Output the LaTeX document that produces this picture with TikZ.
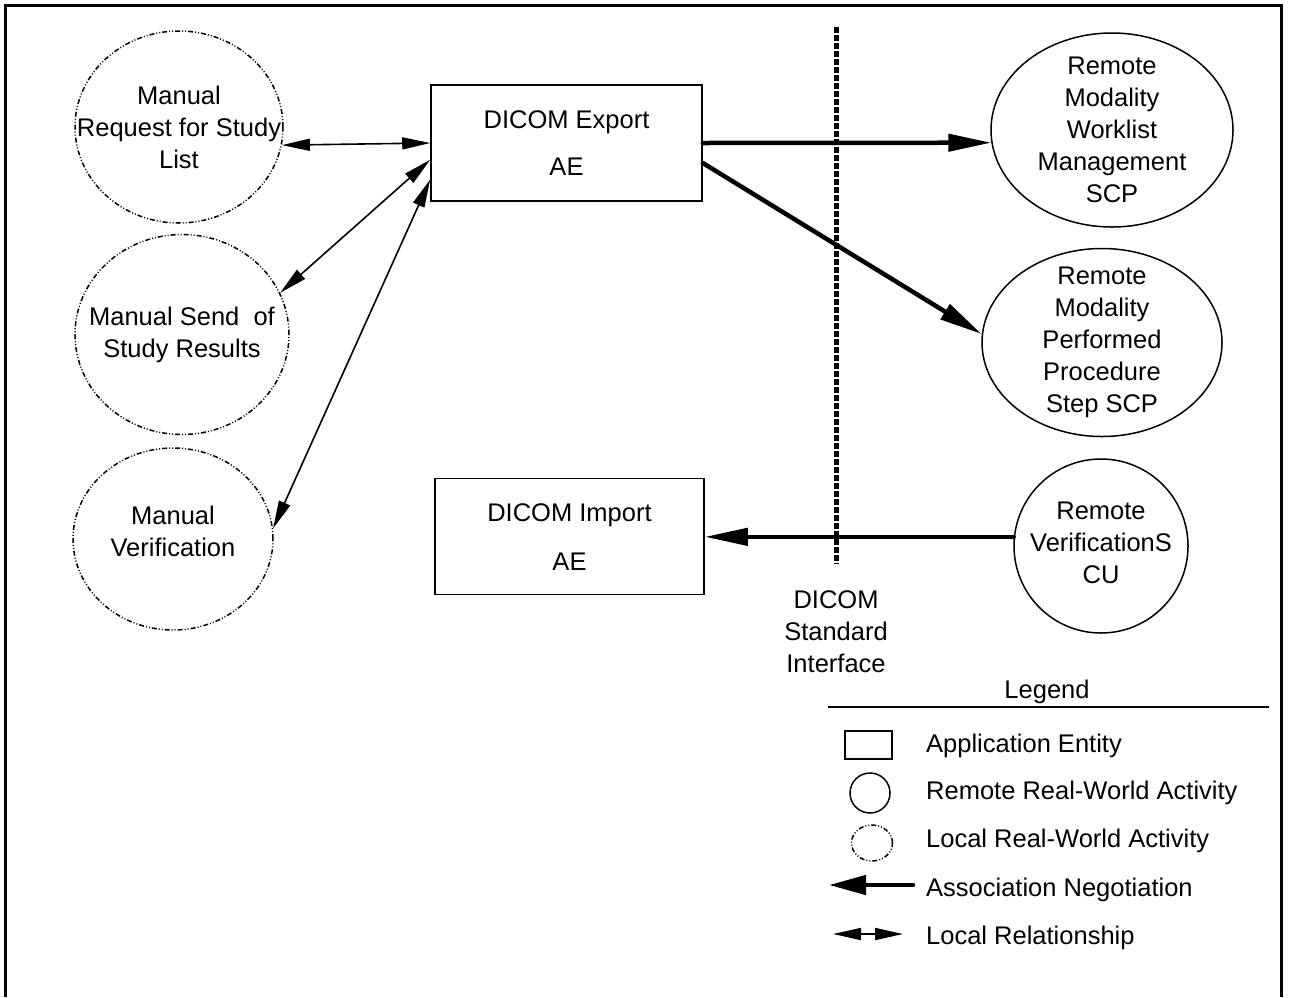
\documentclass[tikz,border=0pt]{standalone}
\usepackage{fontspec}
\setmainfont{Liberation Sans}
\usepackage{tikz}
\usetikzlibrary{ arrows.meta, calc, positioning, shapes.geometric }
\tikzset{
x=1pt, y=-1pt, % one unit per pixel, y going down
node distance=10pt, % default gap between placed nodes
every node/.style={inner sep=1pt, align=center, font=\fontsize{25.5}{32}\selectfont},
ae/.style={draw, line width=1.6pt, inner sep=0pt}, % application entity box
remote/.style={ellipse, draw, line width=1.5pt, inner sep=0pt}, % remote activity
local/.style={ellipse, draw, line width=1.5pt, inner sep=0pt,
  dash pattern=on 5pt off 2pt on 1pt off 2pt on 1pt off 2pt}, % local activity
assoc/.style={line width=4.5pt, line cap=round, -{Triangle[length=43pt,width=17pt]}}, % association
rel/.style={line width=1.6pt, {Triangle[length=28pt,width=12pt]}-{Triangle[length=28pt,width=12pt]}}, % local relationship
iface/.style={line width=5pt, dash pattern=on 6pt off 2pt}, % standard interface
}

\begin{document}
\begin{tikzpicture}
  \useasboundingbox (0,0) rectangle (1289,997);
  \draw[line width=3pt] (5,997) -- (5,5) -- (1281,5) -- (1281,997); % frame, open below

  \node[ae, minimum width=271pt, minimum height=116pt] (export) at (566.5,143) {DICOM Export\\[15pt]AE};
  \node[ae, minimum width=269pt, minimum height=116pt, below=276pt of export, xshift=3pt] (import) {DICOM Import\\[17pt]AE};

  \node[local, minimum width=208pt, minimum height=192pt,
    label=center:{Manual\\Request for Study\\List}] (reqlist) at (179,127) {};
  \node[local, minimum width=214pt, minimum height=200pt, below=10pt of reqlist, xshift=3pt,
    label=center:{Manual Send~ of\\Study Results}] (sendres) {};
  \node[local, minimum width=200pt, minimum height=182pt, below=12pt of sendres, xshift=-9pt,
    label={[yshift=8pt]center:Manual\\Verification}] (manver) {};

  \node[remote, minimum width=242pt, minimum height=194pt,
    label=center:{Remote\\Modality\\Worklist\\Management\\SCP}] (mwl) at (1112,130) {};
  \node[remote, minimum width=240pt, minimum height=188pt, below=20pt of mwl, xshift=-10pt,
    label=center:{Remote\\Modality\\Performed\\Procedure\\Step SCP}] (mpps) {};
  \node[remote, minimum size=174pt, below=21pt of mpps, xshift=-1pt,
    label={[yshift=3pt]center:Remote\\VerificationS\\CU}] (verscu) {};

  \coordinate (iftop) at (836,27);
  \coordinate (ifbot) at (836,564);
  \draw[iface] (iftop) -- (ifbot);
  \node (dsi) at (836,632) {DICOM\\Standard\\Interface};

  \draw[assoc] (export.east) -- (mwl.186);
  \draw[assoc] ([yshift=-20pt]export.east) -- (mpps.176);
  \draw[assoc] (verscu.174) -- (verscu.174 -| import.east);

  \draw[rel] (reqlist.-10) -- (export.west);
  \draw[rel] (sendres.23) -- (export.187);
  \draw[rel] (manver.6) -- (export.195);

  % legend
  \node (legend) at (1047,692) {Legend};
  \coordinate (lgleft) at (828,707);
  \coordinate (lgright) at (1269,707);
  \draw[line width=2.6pt] (lgleft) -- (lgright);

  \node[ae, minimum width=47pt, minimum height=28pt] (keyae) at (868.5,745) {};
  \node[remote, minimum size=40pt] (keyremote) at (870,793) {};
  \node[local, minimum width=41pt, minimum height=36pt] (keylocal) at (872,843) {};
  \coordinate (keyassocA) at (913,885);
  \coordinate (keyassocB) at (829,885);
  \draw[assoc, -{Triangle[length=37pt,width=19pt]}] (keyassocA) -- (keyassocB);
  \coordinate (keyrelA) at (833,934);
  \coordinate (keyrelB) at (903,934);
  \draw[rel] (keyrelA) -- (keyrelB);

  \node[anchor=base west] (txtae) at (925,752) {Application Entity};
  \node[anchor=base west] (txtremote) at (925,799) {Remote Real-World Activity};
  \node[anchor=base west] (txtlocal) at (925,847) {Local Real-World Activity};
  \node[anchor=base west] (txtassoc) at (925,896) {Association Negotiation};
  \node[anchor=base west] (txtrel) at (925,944) {Local Relationship};
\end{tikzpicture}
\end{document}
